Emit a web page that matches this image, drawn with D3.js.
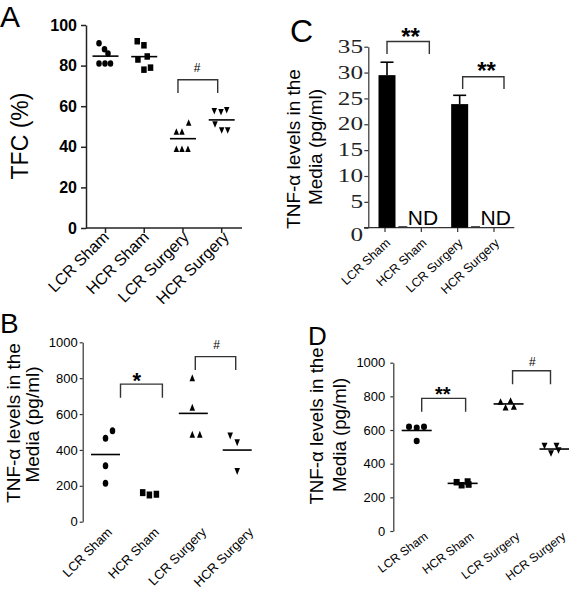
<!DOCTYPE html>
<html><head><meta charset="utf-8">
<script src="https://cdn.jsdelivr.net/npm/d3@7"></script>
<style>body{margin:0;background:#fff}</style>
</head><body>
<svg id="c" width="569" height="594"></svg>
<script>
const categories = ["LCR Sham","HCR Sham","LCR Surgery","HCR Surgery"];
// Panel A: TFC (%)
const tfcLcrSham = [91,88,86,81,81,81];
const tfcHcrSham = [92,90,83,84.5,78,79];
const tfcLcrSurgery = [52,47.5,47.5,39,39,39];
const tfcHcrSurgery = [57.5,57,58,51,48,48];
const tfcTicks = [0,20,40,60,80,100];
// Panel B: TNF-α (pg/ml)
const tnfBLcrSham = [507,465,312,214];
const tnfBHcrSham = [162,149,153];
const tnfBLcrSurgery = [803,638,487,487];
const tnfBHcrSurgery = [478,440,280];
const tnfBTicks = [0,200,400,600,800,1000];
// Panel C: TNF-α bars (pg/ml), 0 = not detected
const tnfCMeans = [29.5,0,23.9,0];
const tnfCErrors = [2.5,0,1.7,0];
const tnfCTicks = [0,5,10,15,20,25,30,35];
// Panel D: TNF-α (pg/ml)
const tnfDLcrSham = [620,614,620,535];
const tnfDHcrSham = [290,272,294,276];
const tnfDLcrSurgery = [770,735,775,740];
const tnfDHcrSurgery = [505,460,505,478];
const tnfDTicks = [0,200,400,600,800,1000];

const SANS = "'Liberation Sans', Arial, Helvetica, sans-serif";
const SERIF = "'Liberation Serif', 'Times New Roman', serif";
const svg = d3.select("#c");

function mark(g, shape, cx, cy, w, h) {
  if (shape === "circle") g.append("ellipse").attr("cx", cx).attr("cy", cy).attr("rx", w/2).attr("ry", h/2).attr("fill", "#000");
  else if (shape === "square") g.append("rect").attr("x", cx-w/2).attr("y", cy-h/2).attr("width", w).attr("height", h).attr("fill", "#000");
  else if (shape === "up") g.append("path").attr("d", `M${cx},${cy-h/2}L${cx+w/2},${cy+h/2}L${cx-w/2},${cy+h/2}Z`).attr("fill", "#000");
  else g.append("path").attr("d", `M${cx-w/2},${cy-h/2}L${cx+w/2},${cy-h/2}L${cx},${cy+h/2}Z`).attr("fill", "#000");
}
function scatter(g, groups, xS, yS, offsets, w, h, meanW, noMean) {
  const shapes = ["circle","square","up","down"];
  groups.forEach((vals, i) => {
    const cx = xS(categories[i]);
    vals.forEach((v, j) => mark(g, shapes[i], cx + offsets[i][j], yS(v), w, h));
    if (!noMean.includes(i)) {
      const my = yS(d3.mean(vals));
      g.append("line").attr("x1", cx-meanW/2).attr("x2", cx+meanW/2).attr("y1", my).attr("y2", my)
        .attr("stroke", "#000").attr("stroke-width", 1.6);
    }
  });
}
function bracket(g, x1, x2, yT, yB) {
  g.append("path").attr("d", `M${x1},${yB}V${yT}H${x2}V${yB}`).attr("fill", "none")
    .attr("stroke", "#333").attr("stroke-width", 1.4);
}
function sig(g, txt, x, y, size, weight) {
  g.append("text").attr("x", x).attr("y", y).attr("text-anchor", "middle").attr("font-family", SANS)
    .attr("font-size", size).attr("font-weight", weight || "normal").text(txt);
}
function xLabels(g, xfn, y, angle, size) {
  g.selectAll(null).data(categories).join("text")
    .attr("transform", d => `translate(${xfn(d)},${y}) rotate(${angle})`)
    .attr("text-anchor", "end").attr("font-family", SANS).attr("font-size", size).text(d => d);
}
function yLabel(g, lines, size) {
  lines.forEach(l => g.append("text").attr("transform", `translate(${l.x},${l.y}) rotate(-90)`)
    .attr("text-anchor", "middle").attr("font-family", SANS).attr("font-size", size).text(l.t));
}
function styleAxis(g, font, size, weight, color, sw) {
  g.attr("font-family", font).attr("font-size", size).attr("font-weight", weight);
  g.selectAll("line,path").attr("stroke", color).attr("stroke-width", sw);
  g.selectAll("text").attr("fill", "#000");
}
function letter(t, x, y, size) {
  svg.append("text").attr("x", x).attr("y", y).attr("font-family", SANS).attr("font-size", size).text(t);
}
const fmt = d3.format("d");

// ---------- Panel A ----------
{
  const g = svg.append("g");
  const y = d3.scaleLinear().domain([0,100]).range([228,25]);
  const x = d3.scalePoint().domain(categories).range([105.5,221.7]);
  const ax = g.append("g").attr("transform", "translate(86,0)")
    .call(d3.axisLeft(y).tickValues(tfcTicks).tickFormat(fmt).tickSize(5).tickSizeOuter(0).tickPadding(4));
  styleAxis(ax, SANS, 16, "bold", "#222", 1.5);
  g.append("line").attr("x1", 86).attr("x2", 242).attr("y1", 228).attr("y2", 228).attr("stroke", "#222").attr("stroke-width", 1.5);
  g.selectAll(null).data(categories).join("line").attr("x1", d => x(d)).attr("x2", d => x(d))
    .attr("y1", 228).attr("y2", 233).attr("stroke", "#222").attr("stroke-width", 1.5);
  const offA = [[-6.5,-1,2.5,-6.5,-0.5,5],[-7,-0.3,-6.3,3,-0.3,6.3],[5.7,-6.6,-1,-6.6,-1,5],[-7.4,-0.7,5,-6.7,0,6]];
  scatter(g, [tfcLcrSham, tfcHcrSham, tfcLcrSurgery, tfcHcrSurgery], x, y, offA, 5.5, 6.5, 26, []);
  bracket(g, x("LCR Surgery")-5, x("HCR Surgery")-4, y(73), y(66.5));
  sig(g, "#", 197, 71.5, 12);
  const lx = d3.scalePoint().domain(categories).range([110,230]);
  xLabels(g, lx, 238, -45, 16);
  g.append("text").attr("transform", "translate(28,136) rotate(-90)").attr("text-anchor", "middle")
    .attr("font-family", SANS).attr("font-size", 23).text("TFC (%)");
  letter("A", 0, 26.7, 30);
}

// ---------- Panel B ----------
{
  const g = svg.append("g");
  const y = d3.scaleLinear().domain([0,1000]).range([521.7,342.3]);
  const x = d3.scalePoint().domain(categories).range([105.5,237.2]);
  const ax = g.append("g").attr("transform", "translate(82.7,0)")
    .call(d3.axisLeft(y).tickValues(tnfBTicks).tickFormat(fmt).tickSize(3).tickSizeOuter(0).tickPadding(2));
  styleAxis(ax, SANS, 13, "normal", "#333", 1.2);
  const offB = [[7,0,0,0],[-6.7,0,7],[-1,-1,-1,6.5],[-7,0,0]];
  scatter(g, [tnfBLcrSham, tnfBHcrSham, tnfBLcrSurgery, tnfBHcrSurgery], x, y, offB, 5.5, 7, 29, [1]);
  bracket(g, x("LCR Sham")+15, x("HCR Sham")+13, y(767), y(691));
  sig(g, "*", 136.7, 388, 22, "bold");
  bracket(g, x("LCR Surgery")+2, x("HCR Surgery")-1.5, y(920), y(846));
  sig(g, "#", 216.7, 349, 12);
  const lx = d3.scalePoint().domain(categories).range([113,254]);
  xLabels(g, lx, 533, -45, 13);
  yLabel(g, [{t:"TNF-α levels in the", x:20, y:423}, {t:"Media (pg/ml)", x:39, y:424.5}], 19);
  letter("B", 0, 333, 28);
}

// ---------- Panel C ----------
{
  const g = svg.append("g");
  const y = d3.scaleLinear().domain([0,35]).range([227.7,46.7]);
  const x = d3.scalePoint().domain(categories).range([385,494]);
  const ax = g.append("g").attr("transform", "translate(368.3,0)")
    .call(d3.axisLeft(y).tickValues(tnfCTicks).tickSize(4).tickSizeOuter(0).tickFormat(""));
  styleAxis(ax, SERIF, 18, "normal", "#333", 1.2);
  g.selectAll(null).data(tnfCTicks).join("text")
    .attr("transform", d => `translate(363,${y(d) + (d === 0 ? 7 : 0)}) scale(1.4,1)`)
    .attr("text-anchor", "end").attr("dominant-baseline", "central")
    .attr("font-family", SERIF).attr("font-size", 18).attr("fill", "#222").text(d => d);
  g.append("line").attr("x1", 364).attr("x2", 514.3).attr("y1", 227.7).attr("y2", 227.7).attr("stroke", "#333").attr("stroke-width", 1.2);
  g.selectAll(null).data(categories).join("line").attr("x1", d => x(d)).attr("x2", d => x(d))
    .attr("y1", 227.7).attr("y2", 232).attr("stroke", "#333").attr("stroke-width", 1.2);
  const bw = 17;
  categories.forEach((c, i) => {
    const v = tnfCMeans[i];
    if (v > 0) {
      const cx = x(c) + 2;
      g.append("rect").attr("x", cx - bw/2).attr("y", y(v)).attr("width", bw).attr("height", y(0) - y(v)).attr("fill", "#000");
      const ye = y(v + tnfCErrors[i]);
      g.append("line").attr("x1", cx).attr("x2", cx).attr("y1", y(v)).attr("y2", ye).attr("stroke", "#000").attr("stroke-width", 1.6);
      g.append("line").attr("x1", cx - 6.5).attr("x2", cx + 6.5).attr("y1", ye).attr("y2", ye).attr("stroke", "#000").attr("stroke-width", 1.6);
    } else {
      g.append("line").attr("x1", x(c) - 23).attr("x2", x(c) - 14).attr("y1", y(0) - 0.8).attr("y2", y(0) - 0.8).attr("stroke", "#333").attr("stroke-width", 1.5);
      g.append("text").attr("x", x(c) - 13.5).attr("y", 225).attr("font-family", SANS).attr("font-size", 21).text("ND");
    }
  });
  bracket(g, x("LCR Sham")+2, x("HCR Sham")+8, y(36), y(33.6));
  sig(g, "**", 410.5, 45, 24, "bold");
  bracket(g, x("LCR Surgery")+5, x("HCR Surgery")+10, y(29.2), y(26.8));
  sig(g, "**", 486.5, 78.5, 24, "bold");
  xLabels(g, d => x(d) + 6, 244, -43, 12.5);
  yLabel(g, [{t:"TNF-α levels in the", x:300, y:149}, {t:"Media (pg/ml)", x:322, y:147}], 19);
  letter("C", 290, 42, 32);
}

// ---------- Panel D ----------
{
  const g = svg.append("g");
  const y = d3.scaleLinear().domain([0,1000]).range([531,362.7]);
  const x = d3.scalePoint().domain(categories).range([416.7,554.5]);
  const ax = g.append("g").attr("transform", "translate(393.3,0)")
    .call(d3.axisLeft(y).tickValues(tnfDTicks).tickFormat(fmt).tickSize(3).tickSizeOuter(0).tickPadding(5));
  styleAxis(ax, SANS, 13, "normal", "#333", 1.2);
  const offD = [[-7.7,0,7.3,0],[-6,-1,5,6],[-8,-3,2,5.3],[-10,-3.5,2,4]];
  scatter(g, [tnfDLcrSham, tnfDHcrSham, tnfDLcrSurgery, tnfDHcrSurgery], x, y, offD, 6, 6.5, 30, []);
  bracket(g, x("LCR Sham")+5, x("HCR Sham")+3, y(788), y(709));
  sig(g, "**", 442.7, 401, 20, "bold");
  bracket(g, x("LCR Surgery")+4, x("HCR Surgery")-4, y(952), y(872));
  sig(g, "#", 532.3, 366, 12);
  xLabels(g, d => x(d) + 12, 538, -37, 12);
  yLabel(g, [{t:"TNF-α levels in the", x:323, y:426}, {t:"Media (pg/ml)", x:346, y:435}], 18.7);
  letter("D", 308, 345, 26);
}
</script>
</body></html>
